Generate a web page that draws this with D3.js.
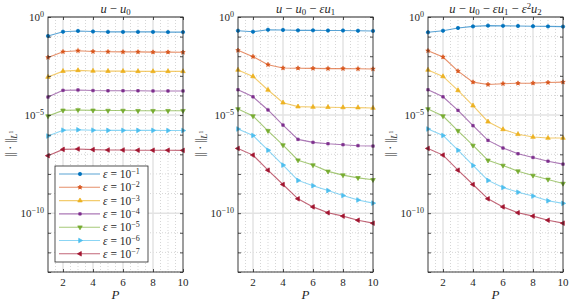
<!DOCTYPE html>
<html>
<head>
<meta charset="utf-8">
<style>
  body { margin: 0; background: #fff; }
  svg text { font-family: "Liberation Serif", "DejaVu Serif", serif; fill: #262626; }
</style>
</head>
<body>
<svg id="chart" width="570" height="302"></svg>
<script src="https://d3js.org/d3.v7.min.js"></script>
<script>
// P values on the x axis
const P = [1, 2, 3, 4, 5, 6, 7, 8, 9, 10];
const epsExp = [-1, -2, -3, -4, -5, -6, -7];
const colors = ['#0072BD', '#D95319', '#EDB120', '#7E2F8E', '#77AC30', '#4DBEEE', '#A2142F'];
const xTicks = [2, 4, 6, 8, 10];
const yLabelExp = [0, -5, -10];

// log10 of the L1 error (one array per eps)
// panel 1: u - u0
const p1e1 = [-0.97, -0.75, -0.71, -0.74, -0.76, -0.76, -0.76, -0.76, -0.77, -0.77];
const p1e2 = [-2.06, -1.77, -1.72, -1.76, -1.77, -1.78, -1.78, -1.79, -1.79, -1.80];
const p1e3 = [-3.06, -2.76, -2.72, -2.75, -2.76, -2.76, -2.77, -2.77, -2.77, -2.77];
const p1e4 = [-4.08, -3.74, -3.72, -3.75, -3.76, -3.76, -3.76, -3.77, -3.77, -3.77];
const p1e5 = [-5.05, -4.76, -4.74, -4.76, -4.77, -4.77, -4.78, -4.78, -4.78, -4.78];
const p1e6 = [-6.07, -5.77, -5.75, -5.77, -5.78, -5.78, -5.78, -5.78, -5.79, -5.79];
const p1e7 = [-7.07, -6.75, -6.73, -6.76, -6.78, -6.78, -6.79, -6.79, -6.79, -6.80];
// panel 2: u - u0 - eps u1
const p2e1 = [-0.70, -0.75, -0.65, -0.66, -0.68, -0.68, -0.69, -0.69, -0.70, -0.71];
const p2e2 = [-1.70, -2.02, -2.43, -2.60, -2.61, -2.62, -2.63, -2.63, -2.64, -2.65];
const p2e3 = [-2.70, -3.03, -3.72, -4.37, -4.57, -4.59, -4.60, -4.61, -4.62, -4.64];
const p2e4 = [-3.71, -4.07, -4.74, -5.51, -6.24, -6.39, -6.46, -6.51, -6.56, -6.58];
const p2e5 = [-4.69, -5.05, -5.80, -6.53, -7.30, -7.55, -7.87, -8.06, -8.20, -8.30];
const p2e6 = [-5.71, -6.04, -6.79, -7.55, -8.33, -8.60, -8.85, -9.10, -9.33, -9.49];
const p2e7 = [-6.70, -7.04, -7.81, -8.54, -9.27, -9.68, -9.98, -10.15, -10.36, -10.51];
// panel 3: u - u0 - eps u1 - eps^2 u2
const p3e1 = [-0.78, -0.70, -0.56, -0.48, -0.44, -0.45, -0.46, -0.47, -0.48, -0.49];
const p3e2 = [-1.72, -2.04, -2.76, -3.32, -3.44, -3.40, -3.38, -3.37, -3.34, -3.32];
const p3e3 = [-2.70, -3.03, -3.74, -4.52, -5.34, -5.73, -5.98, -6.12, -6.17, -6.17];
const p3e4 = [-3.71, -4.07, -4.76, -5.54, -6.29, -6.68, -6.97, -7.16, -7.35, -7.50];
const p3e5 = [-4.69, -5.05, -5.80, -6.55, -7.31, -7.57, -7.86, -8.08, -8.28, -8.49];
const p3e6 = [-5.71, -6.04, -6.79, -7.57, -8.33, -8.69, -8.93, -9.13, -9.37, -9.50];
const p3e7 = [-6.70, -7.04, -7.81, -8.54, -9.27, -9.68, -9.98, -10.15, -10.36, -10.51];

const panels = [
  { left: 48, series: [p1e1, p1e2, p1e3, p1e4, p1e5, p1e6, p1e7], legend: true,
    title: [['u', 'i'], [' − ', 'n'], ['u', 'i'], ['0', 'sub']] },
  { left: 238, series: [p2e1, p2e2, p2e3, p2e4, p2e5, p2e6, p2e7], legend: false,
    title: [['u', 'i'], [' − ', 'n'], ['u', 'i'], ['0', 'sub'], [' − ', 'n'], ['εu', 'i'], ['1', 'sub']] },
  { left: 428, series: [p3e1, p3e2, p3e3, p3e4, p3e5, p3e6, p3e7], legend: false,
    title: [['u', 'i'], [' − ', 'n'], ['u', 'i'], ['0', 'sub'], [' − ', 'n'], ['εu', 'i'], ['1', 'sub'],
            [' − ', 'n'], ['ε', 'i'], ['2', 'sup'], ['u', 'i'], ['2', 'sub']] }
];

const marginTop = 17, W = 135, H = 255;
const x = d3.scaleLinear().domain([1, 10]).range([0, W]);
const y = d3.scaleLog().domain([1e-13, 1]).range([H, 0]);
const decades = d3.range(-13, 1).map(e => Math.pow(10, e));
const minorX = d3.range(1.5, 10, 0.5).filter(v => v % 2 !== 0);

const markers = [
  { sym: d3.symbolCircle, size: 9, rot: 0 },
  { sym: d3.symbolStar, size: 6, rot: 0 },
  { sym: d3.symbolTriangle, size: 9, rot: 0 },
  { sym: d3.symbolSquare, size: 6, rot: 0 },
  { sym: d3.symbolTriangle, size: 9, rot: 180 },
  { sym: d3.symbolTriangle, size: 9, rot: 90 },
  { sym: d3.symbolTriangle, size: 9, rot: -90 }
];

const svg = d3.select('#chart');

function addMath(sel, parts, size) {
  parts.forEach(([txt, kind]) => {
    const t = sel.append('tspan').text(txt);
    if (kind === 'i') t.attr('font-style', 'italic');
    if (kind === 'sub') t.attr('font-size', size * 0.7).attr('baseline-shift', '-25%');
    if (kind === 'sup') t.attr('font-size', size * 0.7).attr('baseline-shift', '45%');
  });
}

function drawMarker(g, i, cx, cy) {
  const m = markers[i];
  return g.append('path')
    .attr('d', d3.symbol().type(m.sym).size(m.size)())
    .attr('transform', `translate(${cx},${cy}) rotate(${m.rot})`)
    .attr('fill', colors[i])
    .attr('stroke', colors[i])
    .attr('stroke-width', 0.7);
}

panels.forEach(p => {
  const g = svg.append('g').attr('transform', `translate(${p.left},${marginTop})`);

  // grid
  const grid = g.append('g');
  grid.selectAll('.mx').data(minorX).enter().append('line')
    .attr('x1', d => x(d)).attr('x2', d => x(d)).attr('y1', 0).attr('y2', H)
    .attr('stroke', '#c4c4c4').attr('stroke-width', 0.7).attr('stroke-dasharray', '1,2');
  grid.selectAll('.my').data(decades.filter(d => ![0, -5, -10].includes(Math.round(Math.log10(d))))).enter().append('line')
    .attr('x1', 0).attr('x2', W).attr('y1', d => y(d)).attr('y2', d => y(d))
    .attr('stroke', '#c4c4c4').attr('stroke-width', 0.7).attr('stroke-dasharray', '1,2');
  grid.selectAll('.gx').data(xTicks.slice(0, 4)).enter().append('line')
    .attr('x1', d => x(d)).attr('x2', d => x(d)).attr('y1', 0).attr('y2', H)
    .attr('stroke', '#e3e3e3').attr('stroke-width', 1.5);
  grid.selectAll('.gy').data(yLabelExp.map(e => Math.pow(10, e))).enter().append('line')
    .attr('x1', 0).attr('x2', W).attr('y1', d => y(d)).attr('y2', d => y(d))
    .attr('stroke', '#e3e3e3').attr('stroke-width', 1.5);

  // series
  const line = d3.line().x((d, i) => x(P[i])).y(d => y(Math.pow(10, d)));
  p.series.forEach((s, i) => {
    g.append('path').datum(s).attr('d', line)
      .attr('fill', 'none').attr('stroke', colors[i])
      .attr('stroke-opacity', 0.65).attr('stroke-width', 1.1);
    s.forEach((v, j) => drawMarker(g, i, x(P[j]), y(Math.pow(10, v))));
  });

  // axes (ticks inward, box)
  const ax = g.append('g').attr('class', 'axes');
  ax.append('g').attr('transform', `translate(0,${H})`)
    .call(d3.axisBottom(x).tickValues(xTicks).tickSizeInner(-3).tickSizeOuter(0).tickFormat(''));
  ax.append('g')
    .call(d3.axisTop(x).tickValues(xTicks).tickSizeInner(-3).tickSizeOuter(0).tickFormat(''));
  ax.append('g')
    .call(d3.axisLeft(y).tickValues(decades).tickSizeInner(-3).tickSizeOuter(0).tickFormat(''));
  ax.append('g').attr('transform', `translate(${W},0)`)
    .call(d3.axisRight(y).tickValues(decades).tickSizeInner(-3).tickSizeOuter(0).tickFormat(''));
  ax.selectAll('.domain').remove();
  ax.selectAll('line').attr('stroke', '#262626').attr('stroke-width', 0.8);
  g.append('rect').attr('width', W).attr('height', H)
    .attr('fill', 'none').attr('stroke', '#262626').attr('stroke-width', 0.9);

  // x tick labels
  g.selectAll('.xl').data(xTicks).enter().append('text')
    .attr('x', d => x(d)).attr('y', H + 14).attr('text-anchor', 'middle')
    .attr('font-size', 11).text(d => d);
  g.append('text').attr('x', W / 2).attr('y', H + 27).attr('text-anchor', 'middle')
    .attr('font-size', 13).attr('font-style', 'italic').text('P');

  // y tick labels
  yLabelExp.forEach(e => {
    const t = g.append('text').attr('x', -4).attr('y', y(Math.pow(10, e)) + 4)
      .attr('text-anchor', 'end').attr('font-size', 11);
    t.append('tspan').text('10');
    t.append('tspan').attr('font-size', 8).attr('baseline-shift', '55%').text(e === 0 ? '0' : '−' + (-e));
  });

  // y label
  const yl = g.append('text')
    .attr('transform', `translate(-34,${H / 2 - 1}) rotate(-90)`)
    .attr('text-anchor', 'middle').attr('font-size', 12);
  yl.append('tspan').attr('letter-spacing', -0.5).text('||');
  yl.append('tspan').text(' · ');
  yl.append('tspan').attr('letter-spacing', -0.5).text('||');
  yl.append('tspan').attr('font-size', 9).attr('font-style', 'italic').attr('baseline-shift', '-30%').text('L');
  yl.append('tspan').attr('font-size', 6.5).attr('baseline-shift', '10%').text('1');

  // title
  const tt = g.append('text').attr('x', W / 2).attr('y', -4)
    .attr('text-anchor', 'middle').attr('font-size', 12.5);
  addMath(tt, p.title, 12.5);

  // legend
  if (p.legend) {
    const lg = g.append('g').attr('transform', 'translate(7,149)');
    lg.append('rect').attr('width', 93).attr('height', 96)
      .attr('fill', '#fff').attr('stroke', '#262626').attr('stroke-width', 0.8);
    epsExp.forEach((e, i) => {
      const yy = 8 + i * 13.3;
      lg.append('line').attr('x1', 4).attr('x2', 45).attr('y1', yy).attr('y2', yy)
        .attr('stroke', colors[i]).attr('stroke-opacity', 0.65).attr('stroke-width', 1.1);
      drawMarker(lg, i, 25, yy);
      const t = lg.append('text').attr('x', 48).attr('y', yy + 4).attr('font-size', 11.5);
      t.append('tspan').attr('font-style', 'italic').text('ε');
      t.append('tspan').text(' = 10');
      t.append('tspan').attr('font-size', 8).attr('baseline-shift', '55%').text('−' + (-e));
    });
  }
});
</script>
</body>
</html>
